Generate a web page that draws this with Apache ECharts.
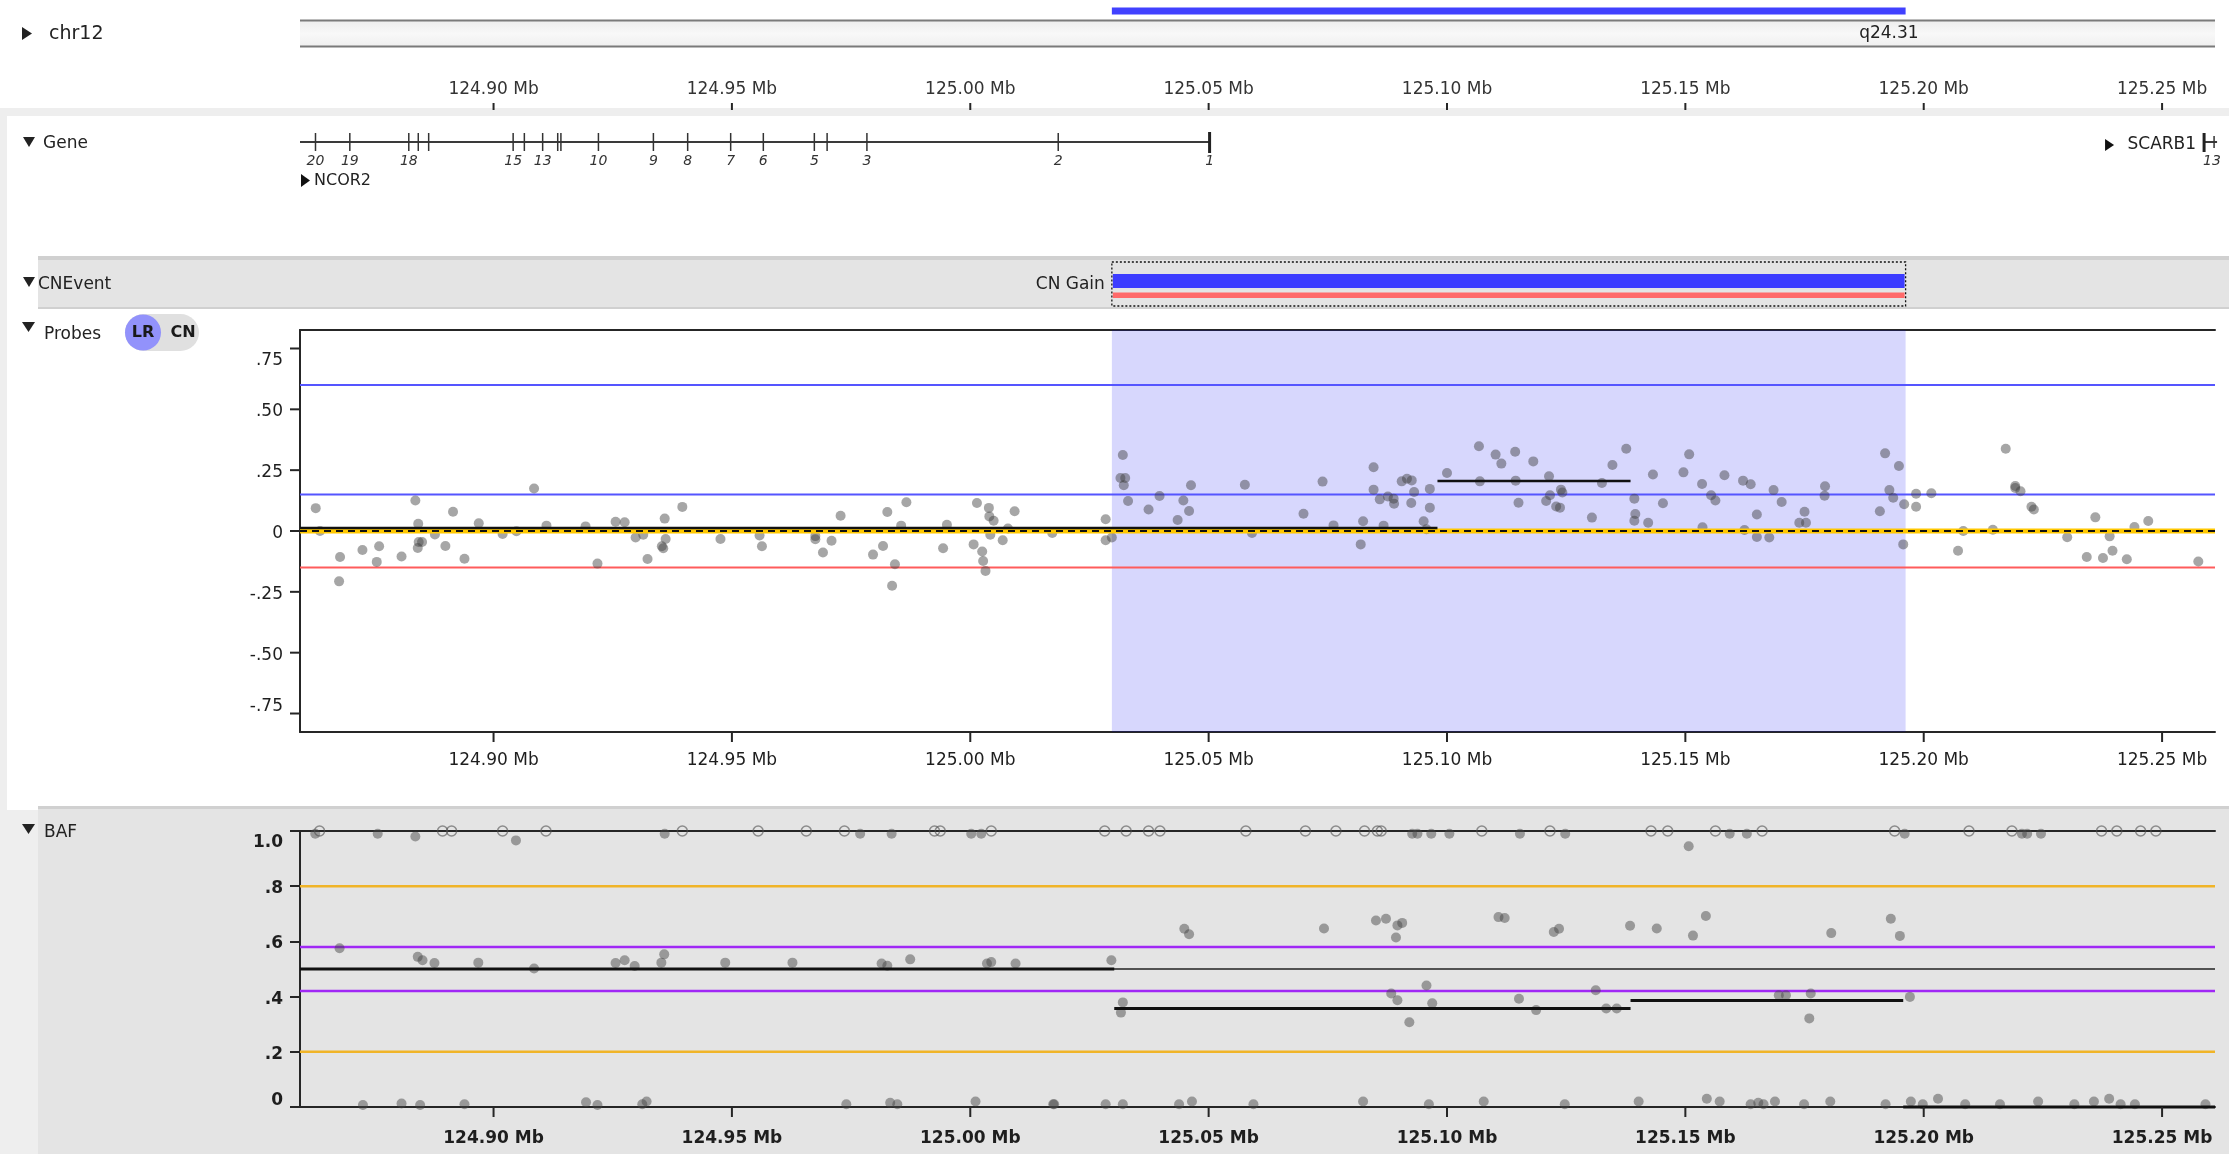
<!DOCTYPE html>
<html>
<head>
<meta charset="utf-8">
<script src="https://cdn.jsdelivr.net/npm/echarts@6/dist/echarts.min.js"></script>
<style>
  html, body { margin: 0; padding: 0; background: #ffffff; }
  #chart { width: 2229px; height: 1154px; }
</style>
</head>
<body>
<div id="chart"></div>
<script>
// ---- view window (Mb on chr12) ----
const viewStart = 124.8594;
const viewEnd = 125.2611;
const rulerTicks = [124.90, 124.95, 125.00, 125.05, 125.10, 125.15, 125.20, 125.25];

// ---- cytoband / CN event ----
const cytoband = ['q24.31', 125.1927];
const cnEvent = [125.0297, 125.1962];
const cnEventLabel = 'CN Gain';

// ---- genes ----
const ncor2Span = [124.8594, 125.0502];
const ncor2Exons = [124.86265, 124.86985, 124.88222, 124.88421, 124.88639, 124.90411, 124.90646,
  124.91030, 124.91346, 124.91413, 124.92200, 124.93353, 124.94072, 124.94974, 124.95659,
  124.96729, 124.96997, 124.97832, 125.01845];
const ncor2ExonLabels = ['20', '19', '18', '', '', '15', '', '13', '', '', '10', '9', '8', '7', '6',
  '5', '', '3', '2'];
const ncor2FirstExon = ['1', 125.0502];
const scarb1Start = 125.2586;
const scarb1Exon = ['13', 125.2586];

// ---- probe log-ratios [position Mb, LR] ----
const probeLR = [
  [124.8627, 0.094], [124.8636, 0.000], [124.8678, -0.107], [124.8676, -0.207], [124.8725, -0.078],
  [124.8760, -0.063], [124.8755, -0.127], [124.8807, -0.105], [124.8836, 0.125], [124.8842, 0.030],
  [124.8843, -0.045], [124.8850, -0.045], [124.8841, -0.070], [124.8877, -0.014], [124.8899, -0.062],
  [124.8915, 0.079], [124.8939, -0.114], [124.8969, 0.032], [124.9019, -0.012], [124.9048, -0.001],
  [124.9085, 0.175], [124.9111, 0.022], [124.9193, 0.019], [124.9218, -0.134], [124.9256, 0.038],
  [124.9275, 0.036], [124.9298, -0.027], [124.9314, -0.015], [124.9323, -0.115], [124.9359, 0.051],
  [124.9361, -0.033], [124.9353, -0.063], [124.9356, -0.071], [124.9396, 0.099], [124.9476, -0.033],
  [124.9558, -0.018], [124.9563, -0.063],
  [124.9675, -0.021], [124.9675, -0.034], [124.9691, -0.088], [124.9709, -0.040], [124.9728, 0.063],
  [124.9796, -0.097], [124.9817, -0.062], [124.9826, 0.078], [124.9855, 0.022], [124.9842, -0.137],
  [124.9836, -0.225], [124.9866, 0.118], [124.9943, -0.071], [124.9951, 0.026], [125.0007, -0.055],
  [125.0014, 0.115], [125.0025, -0.084], [125.0027, -0.123], [125.0032, -0.164], [125.0039, 0.095],
  [125.0040, 0.060], [125.0049, 0.042], [125.0042, -0.015], [125.0068, -0.038], [125.0079, 0.010],
  [125.0093, 0.081], [125.0172, -0.008], [125.0284, 0.048], [125.0284, -0.038], [125.0297, -0.027],
  [125.0320, 0.312], [125.0315, 0.218], [125.0325, 0.218], [125.0322, 0.188], [125.0331, 0.123],
  [125.0374, 0.088], [125.0397, 0.144], [125.0435, 0.045], [125.0447, 0.125], [125.0459, 0.082],
  [125.0463, 0.188], [125.0576, 0.190], [125.0591, -0.008],
  [125.0699, 0.071], [125.0739, 0.203], [125.0762, 0.023], [125.0824, 0.040], [125.0819, -0.055],
  [125.0846, 0.262], [125.0846, 0.170], [125.0859, 0.130], [125.0867, 0.022], [125.0876, 0.142],
  [125.0888, 0.133], [125.0889, 0.112], [125.0905, 0.204], [125.0916, 0.215], [125.0926, 0.208],
  [125.0931, 0.160], [125.0925, 0.115], [125.0951, 0.040], [125.0957, 0.007], [125.0964, 0.173],
  [125.0964, 0.096], [125.1000, 0.238], [125.1067, 0.348], [125.1069, 0.204], [125.1102, 0.314],
  [125.1114, 0.277], [125.1143, 0.326], [125.1144, 0.207], [125.1150, 0.116], [125.1181, 0.286],
  [125.1214, 0.225], [125.1216, 0.147], [125.1208, 0.123], [125.1239, 0.170], [125.1242, 0.158],
  [125.1229, 0.101], [125.1237, 0.096], [125.1304, 0.055], [125.1325, 0.197], [125.1347, 0.271],
  [125.1376, 0.338], [125.1393, 0.133], [125.1395, 0.070], [125.1393, 0.042], [125.1422, 0.034],
  [125.1432, 0.232], [125.1453, 0.114], [125.1496, 0.241], [125.1508, 0.315], [125.1535, 0.193],
  [125.1536, 0.015], [125.1554, 0.147], [125.1563, 0.125], [125.1582, 0.229], [125.1621, 0.207],
  [125.1637, 0.192], [125.1624, 0.004], [125.1650, 0.068], [125.1650, -0.025],
  [125.1676, -0.027], [125.1685, 0.168], [125.1702, 0.119], [125.1739, 0.034], [125.1753, 0.034],
  [125.1750, 0.079], [125.1793, 0.184], [125.1792, 0.145], [125.1908, 0.081], [125.1919, 0.319],
  [125.1928, 0.168], [125.1936, 0.137], [125.1948, 0.267], [125.1959, 0.110], [125.1957, -0.055],
  [125.1984, 0.153], [125.1984, 0.100], [125.2016, 0.155], [125.2072, -0.081], [125.2083, 0.000],
  [125.2145, 0.005], [125.2172, 0.338], [125.2192, 0.185], [125.2192, 0.177], [125.2203, 0.163],
  [125.2226, 0.100], [125.2231, 0.088], [125.2301, -0.026], [125.2342, -0.107], [125.2360, 0.056],
  [125.2376, -0.111], [125.2390, -0.022], [125.2396, -0.081], [125.2426, -0.116], [125.2442, 0.016],
  [125.2471, 0.041], [125.2576, -0.125]
];
// segmented LR [start, end, mean]
const lrSegments = [[124.8594, 125.0980, 0.012], [125.0980, 125.1385, 0.205]];
const lrTicks = [-0.75, -0.5, -0.25, 0, 0.25, 0.5, 0.75];
const lrGainHigh = 0.6;
const lrGain = 0.15;
const lrLoss = -0.15;
const lrBaseline = 0;

// ---- B-allele frequency [position Mb, BAF] ----
const bafCalls = [
  [124.8626, 0.99], [124.8757, 0.99], [124.8836, 0.98], [124.9047, 0.966], [124.9359, 0.99],
  [124.9769, 0.99], [124.9835, 0.99], [125.0002, 0.99], [125.0023, 0.99],
  [125.0927, 0.99], [125.0938, 0.99], [125.0967, 0.99], [125.1005, 0.99], [125.1153, 0.99],
  [125.1248, 0.99], [125.1507, 0.945], [125.1593, 0.99], [125.1629, 0.99], [125.1960, 0.99],
  [125.2206, 0.99], [125.2217, 0.99], [125.2246, 0.99],
  [124.8677, 0.575], [124.8841, 0.544], [124.8851, 0.532], [124.8876, 0.522], [124.8968, 0.523],
  [124.9085, 0.502], [124.9256, 0.522], [124.9275, 0.532], [124.9296, 0.511], [124.9352, 0.523],
  [124.9358, 0.553], [124.9486, 0.523], [124.9627, 0.523], [124.9814, 0.520], [124.9826, 0.512],
  [124.9874, 0.535], [125.0035, 0.520], [125.0044, 0.525], [125.0095, 0.520], [125.0296, 0.532],
  [125.0449, 0.646], [125.0459, 0.626], [125.0742, 0.647], [125.0851, 0.676], [125.0872, 0.682],
  [125.0896, 0.658], [125.0906, 0.667], [125.0893, 0.614], [125.1108, 0.688], [125.1121, 0.685],
  [125.1224, 0.634], [125.1235, 0.646], [125.1384, 0.657], [125.1440, 0.647], [125.1516, 0.621],
  [125.1543, 0.692], [125.1806, 0.630], [125.1931, 0.682], [125.1950, 0.620],
  [125.0320, 0.379], [125.0316, 0.342], [125.0883, 0.411], [125.0896, 0.387], [125.0957, 0.440],
  [125.0969, 0.376], [125.0921, 0.307], [125.1151, 0.392], [125.1187, 0.351], [125.1312, 0.423],
  [125.1334, 0.357], [125.1356, 0.357], [125.1696, 0.405], [125.1711, 0.405], [125.1763, 0.411],
  [125.1760, 0.321], [125.1971, 0.399],
  [124.8726, 0.007], [124.8807, 0.013], [124.8846, 0.007], [124.8939, 0.010], [124.9194, 0.017],
  [124.9218, 0.007], [124.9312, 0.010], [124.9321, 0.020], [124.9740, 0.010], [124.9832, 0.015],
  [124.9847, 0.010], [125.0011, 0.020], [125.0174, 0.010], [125.0176, 0.010], [125.0284, 0.010],
  [125.0320, 0.010], [125.0438, 0.010], [125.0465, 0.020], [125.0594, 0.010], [125.0824, 0.020],
  [125.0962, 0.010], [125.1077, 0.020], [125.1247, 0.010], [125.1402, 0.020], [125.1545, 0.030],
  [125.1572, 0.020], [125.1637, 0.010], [125.1653, 0.015], [125.1664, 0.010], [125.1688, 0.020],
  [125.1749, 0.010], [125.1804, 0.020], [125.1920, 0.010], [125.1973, 0.020], [125.1998, 0.010],
  [125.2030, 0.030], [125.2087, 0.010], [125.2160, 0.010], [125.2240, 0.020], [125.2316, 0.010],
  [125.2357, 0.020], [125.2389, 0.030], [125.2413, 0.010], [125.2443, 0.010], [125.2591, 0.010]
];
// homozygous calls drawn as open markers at the top edge
const bafHomozygous = [124.8635, 124.8893, 124.8912, 124.9019, 124.9110, 124.9396, 124.9555,
  124.9656, 124.9736, 124.9925, 124.9937, 125.0044, 125.0282, 125.0327, 125.0374, 125.0398,
  125.0578, 125.0703, 125.0767, 125.0827, 125.0854, 125.0862, 125.1073, 125.1216, 125.1428,
  125.1463, 125.1563, 125.1661, 125.1939, 125.2095, 125.2185, 125.2373, 125.2405, 125.2455, 125.2487];
const bafSegments = [[124.8594, 125.0302, 0.5], [125.0302, 125.1385, 0.357], [125.1385, 125.1957, 0.386], [125.1957, 125.2611, 0.0]];
const bafTicks = [0, 0.2, 0.4, 0.6, 0.8, 1.0];
const bafOuter = [0.2, 0.8];
const bafInner = [0.42, 0.58];
const bafMid = 0.5;

// ---------------------------------------------------------------
const FONT = 'DejaVu Sans';
const chart = echarts.init(document.getElementById('chart'), null, { renderer: 'canvas' });

const LEFT = 300, RIGHT = 14;
const AXIS_DARK = '#262626';

const hiddenX = (g) => ({
  gridIndex: g, type: 'value', min: viewStart, max: viewEnd, show: false,
  axisLine: { show: false }, axisTick: { show: false }, axisLabel: { show: false }, splitLine: { show: false }
});
const hiddenY = (g) => ({
  gridIndex: g, type: 'value', min: 0, max: 1, show: false, splitLine: { show: false }
});
const borderX = (g) => ({
  gridIndex: g, type: 'value', min: viewStart, max: viewEnd, position: 'top',
  axisLine: { show: true, onZero: false, lineStyle: { color: AXIS_DARK, width: 2 } },
  axisTick: { show: false }, axisLabel: { show: false }, splitLine: { show: false }
});
const mbAxis = (g, bold, margin) => ({
  gridIndex: g, type: 'value', min: viewStart, max: viewEnd, position: 'bottom',
  axisLine: { show: true, onZero: false, lineStyle: { color: AXIS_DARK, width: 2 } },
  axisTick: { show: false },
  axisLabel: {
    customValues: rulerTicks, margin: margin, fontFamily: FONT, fontSize: 17,
    fontWeight: bold ? 'bold' : 'normal', color: '#1e1e1e',
    formatter: (v) => v.toFixed(2) + ' Mb'
  },
  splitLine: { show: false }
});

// tick text for the LR axis; the outermost labels sit a little inside their ticks
function lrFmt(v) {
  let s = '0';
  if (Math.abs(v) > 1e-9) s = (v < 0 ? '-' : '') + Math.abs(v).toFixed(2).replace(/^0/, '');
  if (v > 0.7) return '{dn|' + s + '}';
  if (v < -0.7) return '{up|' + s + '}';
  return '{n|' + s + '}';
}
function bafFmt(v) {
  let s;
  if (Math.abs(v) < 1e-9) s = '0';
  else if (Math.abs(v - 1) < 1e-9) s = '1.0';
  else s = v.toFixed(1).replace(/^0/, '');
  if (v > 0.95) return '{dn|' + s + '}';
  if (v < 0.05) return '{up|' + s + '}';
  return '{n|' + s + '}';
}
const labelRich = (weight) => ({
  n: { fontFamily: FONT, fontSize: 17, fontWeight: weight, color: '#1e1e1e', padding: [5, 0, 0, 0] },
  dn: { fontFamily: FONT, fontSize: 17, fontWeight: weight, color: '#1e1e1e', padding: [24, 0, 0, 0] },
  up: { fontFamily: FONT, fontSize: 17, fontWeight: weight, color: '#1e1e1e', padding: [0, 0, 13, 0] }
});

function hline(name, xi, yi, v, color, width, type, z) {
  return {
    name: name, type: 'line', xAxisIndex: xi, yAxisIndex: yi, silent: true,
    data: [[viewStart, v], [viewEnd, v]], symbol: 'none', z: z || 3,
    lineStyle: { color: color, width: width, type: type || 'solid' }, animation: false
  };
}

function segmentSeries(name, xi, yi, data, width, color, z) {
  return {
    name: name, type: 'custom', xAxisIndex: xi, yAxisIndex: yi, data: data, z: z, silent: true,
    renderItem: (params, api) => {
      const a = api.coord([api.value(0), api.value(2)]);
      const b = api.coord([api.value(1), api.value(2)]);
      return { type: 'line', shape: { x1: a[0], y1: a[1], x2: b[0], y2: b[1] },
        style: { stroke: color, lineWidth: width } };
    }
  };
}

// tick marks on a position axis: drawn from the axis edge (yEdge in axis units) outward by dy pixels
function xTickSeries(xi, yi, yEdge, dy, width) {
  return {
    type: 'custom', xAxisIndex: xi, yAxisIndex: yi, silent: true, clip: false, z: 6,
    data: rulerTicks.map((v) => [v]),
    renderItem: (params, api) => {
      const p = api.coord([api.value(0), yEdge]);
      return { type: 'line', shape: { x1: p[0], y1: p[1], x2: p[0], y2: p[1] + dy },
        style: { stroke: AXIS_DARK, lineWidth: width } };
    }
  };
}
// tick marks on the LR axis, pointing left from the plot edge
function lrTickSeries() {
  return {
    type: 'custom', xAxisIndex: 4, yAxisIndex: 4, silent: true, clip: false, z: 6,
    data: lrTicks.map((v) => [v]),
    renderItem: (params, api) => {
      const p = api.coord([viewStart, api.value(0)]);
      return { type: 'line', shape: { x1: p[0] - 10, y1: p[1], x2: p[0], y2: p[1] },
        style: { stroke: AXIS_DARK, lineWidth: 2 } };
    }
  };
}

const tri = (pts, fill) => ({ type: 'polygon', shape: { points: pts }, style: { fill: fill || '#222' } });
const txt = (x, y, s, size, opts) => ({
  type: 'text', x: x, y: y,
  style: Object.assign({ text: s, fontFamily: FONT, fontSize: size, fill: '#222', verticalAlign: 'middle', align: 'left' }, opts || {})
});

const option = {
  animation: false,
  backgroundColor: '#ffffff',
  graphic: { elements: [
    // frame and panel backgrounds
    { type: 'rect', z: -20, shape: { x: 0, y: 108, width: 2229, height: 1046 }, style: { fill: '#eeeeee' } },
    { type: 'rect', z: -19, shape: { x: 7, y: 116, width: 2222, height: 140 }, style: { fill: '#ffffff' } },
    { type: 'rect', z: -19, shape: { x: 7, y: 256, width: 2222, height: 554 }, style: { fill: '#ffffff' } },
    { type: 'rect', z: -18, shape: { x: 38, y: 256, width: 2191, height: 4 }, style: { fill: '#d0d0d0' } },
    { type: 'rect', z: -18, shape: { x: 38, y: 260, width: 2191, height: 47 }, style: { fill: '#e4e4e4' } },
    { type: 'rect', z: -18, shape: { x: 38, y: 307, width: 2191, height: 2 }, style: { fill: '#d0d0d0' } },
    { type: 'rect', z: -18, shape: { x: 38, y: 806, width: 2191, height: 3 }, style: { fill: '#d0d0d0' } },
    { type: 'rect', z: -18, shape: { x: 38, y: 809, width: 2191, height: 345 }, style: { fill: '#e4e4e4' } },
    // track names
    tri([[22, 27], [22, 40], [32, 33.5]]),
    txt(49, 34, 'chr12', 19),
    tri([[23, 137], [35, 137], [29, 147]]),
    txt(43, 144, 'Gene', 17),
    tri([[23, 277], [35, 277], [29, 287]]),
    txt(38, 285, 'CNEvent', 17),
    tri([[22, 322], [35, 322], [28.5, 332]]),
    txt(44, 335, 'Probes', 17),
    tri([[22, 824], [35, 824], [28.5, 834]]),
    txt(44, 833, 'BAF', 17),
    // LR / CN toggle
    { type: 'rect', shape: { x: 125, y: 314, width: 74, height: 37, r: 18.5 }, style: { fill: '#e0e0e0' } },
    { type: 'circle', shape: { cx: 143, cy: 332.5, r: 18 }, style: { fill: '#9292fb' } },
    txt(143, 333, 'LR', 16, { align: 'center', fontWeight: 'bold', fill: '#1a1a1a' }),
    txt(183, 333, 'CN', 16, { align: 'center', fontWeight: 'bold', fill: '#1a1a1a' })
  ] },
  grid: [
    { left: LEFT, right: RIGHT, top: 8, height: 40 },      // 0 ideogram
    { left: LEFT, right: RIGHT, top: 110, height: 1 },     // 1 ruler
    { left: LEFT, right: RIGHT, top: 121, height: 134 },   // 2 genes
    { left: LEFT, right: RIGHT, top: 260, height: 47 },    // 3 CN events
    { left: LEFT, right: RIGHT, top: 330, height: 402 },   // 4 probes
    { left: LEFT, right: RIGHT, top: 831, height: 276 }    // 5 BAF
  ],
  xAxis: [
    hiddenX(0),
    {
      gridIndex: 1, type: 'value', min: viewStart, max: viewEnd, position: 'top',
      axisLine: { show: false },
      axisTick: { show: false },
      axisLabel: { customValues: rulerTicks, margin: 12, fontFamily: FONT, fontSize: 17, color: '#333',
        formatter: (v) => v.toFixed(2) + ' Mb' },
      splitLine: { show: false }
    },
    hiddenX(2),
    hiddenX(3),
    mbAxis(4, false, 20),
    borderX(4),
    mbAxis(5, true, 23),
    borderX(5)
  ],
  yAxis: [
    hiddenY(0), hiddenY(1), hiddenY(2), hiddenY(3),
    {
      gridIndex: 4, type: 'value', min: -0.826, max: 0.826,
      axisLine: { show: true, onZero: false, lineStyle: { color: AXIS_DARK, width: 2 } },
      axisTick: { show: false },
      axisLabel: { customValues: lrTicks, margin: 17, formatter: lrFmt, rich: labelRich('normal') },
      splitLine: { show: false }
    },
    {
      gridIndex: 5, type: 'value', min: 0, max: 1, interval: 0.2,
      axisLine: { show: true, onZero: false, lineStyle: { color: AXIS_DARK, width: 2 } },
      axisTick: { show: true, length: 10, lineStyle: { color: AXIS_DARK, width: 2 } },
      axisLabel: { margin: 17, formatter: bafFmt, rich: labelRich('bold') },
      splitLine: { show: false }
    }
  ],
  series: [
    // ideogram band and CN event bar over it
    {
      type: 'custom', xAxisIndex: 0, yAxisIndex: 0, silent: true, data: [[viewStart, viewEnd]],
      renderItem: (params, api) => {
        const a = api.coord([api.value(0), 0])[0];
        const b = api.coord([api.value(1), 0])[0];
        const c = api.coord([cytoband[1], 0])[0];
        return { type: 'group', children: [
          { type: 'rect', shape: { x: a, y: 20, width: b - a, height: 27 },
            style: { fill: new echarts.graphic.LinearGradient(0, 0, 0, 1, [
              { offset: 0, color: '#ececec' }, { offset: 0.5, color: '#f8f8f8' }, { offset: 1, color: '#efefef' }]) } },
          { type: 'line', shape: { x1: a, y1: 20.5, x2: b, y2: 20.5 }, style: { stroke: '#7a7a7a', lineWidth: 2 } },
          { type: 'line', shape: { x1: a, y1: 46.5, x2: b, y2: 46.5 }, style: { stroke: '#7a7a7a', lineWidth: 2 } },
          { type: 'text', x: c, y: 34, style: { text: cytoband[0], fontFamily: FONT, fontSize: 17,
            fill: '#222', align: 'center', verticalAlign: 'middle' } }
        ] };
      }
    },
    {
      type: 'custom', xAxisIndex: 0, yAxisIndex: 0, silent: true, data: [cnEvent],
      renderItem: (params, api) => {
        const a = api.coord([api.value(0), 0])[0];
        const b = api.coord([api.value(1), 0])[0];
        return { type: 'rect', shape: { x: a, y: 7.5, width: b - a, height: 7 }, style: { fill: '#4141ff' } };
      }
    },
    // ruler ticks (grid 1 spans y 110..111; ticks rise 7px above it)
    xTickSeries(1, 1, 1, -7, 2),
    // NCOR2 backbone, exons and name
    {
      type: 'custom', xAxisIndex: 2, yAxisIndex: 2, silent: true, data: [ncor2Span],
      renderItem: (params, api) => {
        const a = api.coord([api.value(0), 0])[0];
        const b = api.coord([api.value(1), 0])[0];
        return { type: 'group', children: [
          { type: 'line', shape: { x1: a, y1: 142, x2: b, y2: 142 }, style: { stroke: '#3a3a3a', lineWidth: 2 } },
          { type: 'line', shape: { x1: b, y1: 132, x2: b, y2: 153 }, style: { stroke: '#222', lineWidth: 3 } },
          { type: 'text', x: b, y: 161, style: { text: ncor2FirstExon[0], fontFamily: FONT, fontSize: 14,
            fontStyle: 'italic', fill: '#333', align: 'center', verticalAlign: 'middle' } },
          { type: 'polygon', shape: { points: [[a + 1, 174], [a + 1, 187], [a + 10, 180.5]] }, style: { fill: '#111' } },
          { type: 'text', x: a + 14, y: 181, style: { text: 'NCOR2', fontFamily: FONT, fontSize: 16,
            fill: '#222', align: 'left', verticalAlign: 'middle' } }
        ] };
      }
    },
    {
      type: 'custom', xAxisIndex: 2, yAxisIndex: 2, silent: true, data: ncor2Exons.map((p) => [p]),
      renderItem: (params, api) => {
        const x = api.coord([api.value(0), 0])[0];
        const label = ncor2ExonLabels[params.dataIndex];
        const kids = [{ type: 'line', shape: { x1: x, y1: 133, x2: x, y2: 151 }, style: { stroke: '#333', lineWidth: 1.5 } }];
        if (label) {
          kids.push({ type: 'text', x: x, y: 161, style: { text: label, fontFamily: FONT, fontSize: 14,
            fontStyle: 'italic', fill: '#333', align: 'center', verticalAlign: 'middle' } });
        }
        return { type: 'group', children: kids };
      }
    },
    // SCARB1 at the right edge
    {
      type: 'custom', xAxisIndex: 2, yAxisIndex: 2, silent: true, data: [[scarb1Start]],
      renderItem: (params, api) => {
        const x = api.coord([api.value(0), 0])[0];
        return { type: 'group', children: [
          { type: 'line', shape: { x1: x, y1: 142, x2: x + 14, y2: 142 }, style: { stroke: '#3a3a3a', lineWidth: 2 } },
          { type: 'line', shape: { x1: x + 1, y1: 133, x2: x + 1, y2: 152 }, style: { stroke: '#222', lineWidth: 3 } },
          { type: 'line', shape: { x1: x + 11, y1: 136, x2: x + 11, y2: 148 }, style: { stroke: '#333', lineWidth: 1.5 } },
          { type: 'text', x: x, y: 161, style: { text: scarb1Exon[0], fontFamily: FONT, fontSize: 14,
            fontStyle: 'italic', fill: '#333', align: 'left', verticalAlign: 'middle' } },
          { type: 'text', x: x - 7, y: 145, style: { text: 'SCARB1', fontFamily: FONT, fontSize: 17,
            fill: '#222', align: 'right', verticalAlign: 'middle' } },
          { type: 'polygon', shape: { points: [[x - 98, 139], [x - 98, 151], [x - 89, 145]] }, style: { fill: '#111' } }
        ] };
      }
    },
    // CN event track
    {
      type: 'custom', xAxisIndex: 3, yAxisIndex: 3, silent: true, data: [cnEvent],
      renderItem: (params, api) => {
        const a = api.coord([api.value(0), 0])[0];
        const b = api.coord([api.value(1), 0])[0];
        return { type: 'group', children: [
          { type: 'rect', shape: { x: a, y: 262, width: b - a, height: 44 },
            style: { fill: null, stroke: '#111', lineWidth: 1.3, lineDash: [2, 2] } },
          { type: 'rect', shape: { x: a + 1, y: 274, width: b - a - 2, height: 14 }, style: { fill: '#3c3cff' } },
          { type: 'rect', shape: { x: a + 1, y: 292.5, width: b - a - 2, height: 5.5 }, style: { fill: '#ff6a6a' } },
          { type: 'text', x: a - 7, y: 285, style: { text: cnEventLabel, fontFamily: FONT, fontSize: 17,
            fill: '#222', align: 'right', verticalAlign: 'middle' } }
        ] };
      }
    },
    // probes: CN event shading
    {
      type: 'custom', xAxisIndex: 4, yAxisIndex: 4, silent: true, data: [cnEvent], z: 1,
      renderItem: (params, api) => {
        const a = api.coord([api.value(0), 0.826]);
        const b = api.coord([api.value(1), -0.826]);
        return { type: 'rect', shape: { x: a[0], y: a[1], width: b[0] - a[0], height: b[1] - a[1] },
          style: { fill: 'rgba(0,0,240,0.155)' } };
      }
    },
    hline('gain high', 4, 4, lrGainHigh, '#5555ff', 2, 'solid', 2),
    hline('gain', 4, 4, lrGain, '#5555ff', 2, 'solid', 2),
    hline('loss', 4, 4, lrLoss, '#ff5c5c', 2, 'solid', 2),
    {
      name: 'LR', type: 'scatter', xAxisIndex: 4, yAxisIndex: 4, data: probeLR, symbolSize: 10, z: 3,
      itemStyle: { color: 'rgba(62,62,62,0.58)' }, silent: true
    },
    hline('baseline band', 4, 4, lrBaseline, '#ffc800', 5, 'solid', 4),
    segmentSeries('LR segments', 4, 4, lrSegments, 2.5, '#111', 5),
    hline('baseline', 4, 4, lrBaseline, '#111', 2, [7, 5], 6),
    xTickSeries(4, 4, -0.826, 10, 2),
    lrTickSeries(),
    // BAF
    hline('baf outer lo', 6, 5, bafOuter[0], '#f0b428', 2.5, 'solid', 2),
    hline('baf outer hi', 6, 5, bafOuter[1], '#f0b428', 2.5, 'solid', 2),
    hline('baf inner lo', 6, 5, bafInner[0], '#a028f5', 2.5, 'solid', 2),
    hline('baf inner hi', 6, 5, bafInner[1], '#a028f5', 2.5, 'solid', 2),
    hline('baf mid', 6, 5, bafMid, '#222', 1.5, 'solid', 2),
    {
      name: 'BAF', type: 'scatter', xAxisIndex: 6, yAxisIndex: 5, data: bafCalls, symbolSize: 10, z: 3,
      clip: true, itemStyle: { color: 'rgba(70,70,70,0.6)' }, silent: true
    },
    {
      name: 'BAF hom', type: 'scatter', xAxisIndex: 6, yAxisIndex: 5, data: bafHomozygous.map((p) => [p, 1.0]),
      symbol: 'circle', symbolSize: 10, z: 3, clip: true,
      itemStyle: { color: 'rgba(0,0,0,0)', borderColor: 'rgba(80,80,80,0.75)', borderWidth: 1.5 }, silent: true
    },
    segmentSeries('BAF segments', 6, 5, bafSegments, 3, '#111', 5),
    xTickSeries(6, 5, 0, 10, 2)
  ]
};
chart.setOption(option);
</script>
</body>
</html>
